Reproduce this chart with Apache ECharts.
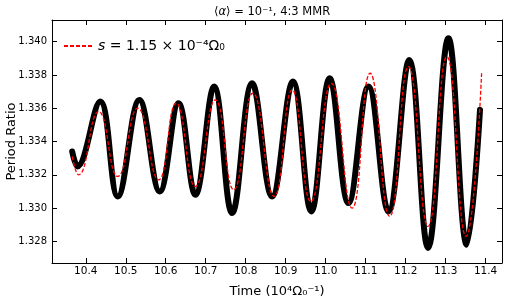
<!DOCTYPE html>
<html>
<head>
<meta charset="utf-8">
<script src="https://cdn.jsdelivr.net/npm/echarts@6/dist/echarts.min.js"></script>
<style>html,body{margin:0;padding:0;background:#fff}#c{width:507px;height:299px}</style>
</head>
<body>
<div id="c"></div>
<script>
// Simulation (black band)
const timeData = [10.366, 10.379, 10.436, 10.480, 10.534, 10.585, 10.632, 10.674, 10.721, 10.766, 10.816, 10.866, 10.918, 10.964, 11.010, 11.057, 11.107, 11.157, 11.209, 11.256, 11.307, 11.353, 11.386];
const ratioData = [1.3334, 1.3325, 1.3364, 1.3307, 1.3365, 1.3310, 1.3363, 1.3308, 1.3373, 1.3297, 1.3375, 1.3307, 1.3376, 1.3298, 1.3378, 1.3303, 1.3373, 1.3298, 1.3389, 1.3276, 1.3402, 1.3278, 1.3359];
// Model (red dashed)
const timeModel = [10.366, 10.382, 10.432, 10.480, 10.530, 10.582, 10.626, 10.674, 10.724, 10.770, 10.818, 10.871, 10.916, 10.963, 11.014, 11.066, 11.111, 11.160, 11.207, 11.256, 11.303, 11.351, 11.390];
const ratioModel = [1.3331, 1.3320, 1.3358, 1.3319, 1.3360, 1.3317, 1.3363, 1.3313, 1.3365, 1.3311, 1.3369, 1.3307, 1.3371, 1.3304, 1.3375, 1.3300, 1.3381, 1.3295, 1.3385, 1.3289, 1.3391, 1.3283, 1.3381];
// Tick labels
const xTicks = [10.4, 10.5, 10.6, 10.7, 10.8, 10.9, 11.0, 11.1, 11.2, 11.3, 11.4];
const yTicks = [1.328, 1.330, 1.332, 1.334, 1.336, 1.338, 1.340];
const xRange = [10.3155, 11.441];
const yRange = [1.3267, 1.3413];
const modelName = 's = 1.15 × 10⁻⁴Ω₀';

const FONT = 'DejaVu Sans';
const chart = echarts.init(document.getElementById('c'), null, {renderer: 'canvas'});

function axisBase(extra) {
  return Object.assign({
    type: 'value',
    axisLine: {show: true, onZero: false, lineStyle: {color: '#000', width: 1}},
    splitLine: {show: false}
  }, extra);
}

chart.setOption({
  animation: false,
  backgroundColor: '#fff',
  title: {
    text: '⟨{i|α}⟩ = 10⁻¹, 4:3 MMR',
    left: 209, top: 1,
    textStyle: {
      fontFamily: FONT, fontSize: 11.5, fontWeight: 'normal', color: '#000',
      rich: {i: {fontFamily: FONT, fontStyle: 'italic', fontSize: 11.5, color: '#000'}}
    }
  },
  legend: {
    data: [modelName],
    left: 58, top: 34,
    itemWidth: 29, itemHeight: 14,
    itemStyle: {opacity: 0},
    formatter: () => '{i|s}{n| = 1.15 × 10⁻⁴Ω₀}',
    textStyle: {
      fontFamily: FONT, fontSize: 14, color: '#000',
      rich: {
        i: {fontFamily: FONT, fontStyle: 'italic', fontSize: 14, color: '#000'},
        n: {fontFamily: FONT, fontSize: 14, color: '#000'}
      }
    }
  },
  grid: {left: 52, right: 5, top: 20, bottom: 36, containLabel: false, outerBoundsMode: 'none'},
  xAxis: [
    axisBase({
      position: 'bottom', min: xRange[0], max: xRange[1],
      axisTick: {show: true, inside: true, length: 5, customValues: xTicks, lineStyle: {color: '#000'}},
      axisLabel: {customValues: xTicks, formatter: v => v.toFixed(1), color: '#000', fontFamily: FONT, fontSize: 10.5, margin: 3},
      name: 'Time (10⁴Ω₀⁻¹)', nameLocation: 'middle', nameGap: 22, nameMoveOverlap: false,
      nameTextStyle: {fontFamily: FONT, fontSize: 13, color: '#000'}
    }),
    axisBase({
      position: 'top', min: xRange[0], max: xRange[1],
      axisTick: {show: true, inside: true, length: 5, customValues: xTicks, lineStyle: {color: '#000'}},
      axisLabel: {show: false}
    })
  ],
  yAxis: [
    axisBase({
      position: 'left', min: yRange[0], max: yRange[1],
      axisTick: {show: true, inside: true, length: 5, customValues: yTicks, lineStyle: {color: '#000'}},
      axisLabel: {customValues: yTicks, formatter: v => v.toFixed(3), color: '#000', fontFamily: FONT, fontSize: 10, margin: 5},
      name: 'Period Ratio', nameLocation: 'middle', nameGap: 34, nameRotate: 90, nameMoveOverlap: false,
      nameTextStyle: {fontFamily: FONT, fontSize: 13, color: '#000'}
    }),
    axisBase({
      position: 'right', min: yRange[0], max: yRange[1],
      axisTick: {show: true, inside: true, length: 5, customValues: yTicks, lineStyle: {color: '#000'}},
      axisLabel: {show: false}
    })
  ],
  series: [
    {
      name: 'simulation', type: 'line', xAxisIndex: 0, yAxisIndex: 0,
      data: timeData.map((t, i) => [t, ratioData[i]]),
      smooth: 0.4, symbol: 'none', z: 2,
      lineStyle: {color: '#000', width: 6, join: 'round', cap: 'round'}
    },
    {
      name: modelName, type: 'line', xAxisIndex: 0, yAxisIndex: 0,
      data: timeModel.map((t, i) => [t, ratioModel[i]]),
      smooth: 0.5, symbol: 'none', z: 3,
      itemStyle: {color: '#ff0000'},
      lineStyle: {color: '#ff0000', width: 1.3, type: [4, 2]}
    }
  ]
});
</script>
</body>
</html>
